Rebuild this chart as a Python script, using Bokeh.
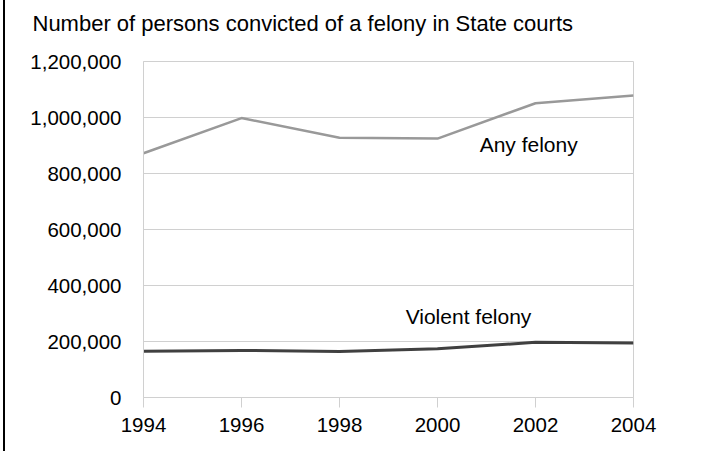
from bokeh.plotting import figure
from bokeh.models import Range1d, NumeralTickFormatter, FixedTicker, Label, Title
from bokeh.embed import file_html
from bokeh.resources import INLINE

years = [1994, 1996, 1998, 2000, 2002, 2004]
any_felony = [872217, 997970, 927717, 924700, 1051000, 1078920]
violent_felony = [165430, 168250, 164584, 173697, 197030, 194570]
y_ticks = [0, 200000, 400000, 600000, 800000, 1000000, 1200000]
title_text = "Number of persons convicted of a felony in State courts"
label_any = "Any felony"
label_violent = "Violent felony"

FONT = "Liberation Sans"

p = figure(width=698, height=451, output_backend="svg", toolbar_location=None,
           title=None,
           x_range=Range1d(1994, 2004), y_range=Range1d(0, 1200000),
           min_border_left=138, min_border_right=70, min_border_top=0, min_border_bottom=54)
p.styles = {"margin-left": "3px", "border-left": "2px solid black"}

# spacer panel between the frame and the title
p.add_layout(Title(text=" ", text_font_size="1px", standoff=14), "above")
p.add_layout(Title(text=title_text, align="left", offset=-111, standoff=17,
                   text_font=FONT, text_font_size="22px", text_font_style="normal",
                   text_color="#000000"), "above")

p.outline_line_color = "#d0d0d0"
p.outline_line_width = 1
p.background_fill_color = "white"
p.border_fill_color = "white"

p.xgrid.grid_line_color = None
p.ygrid.grid_line_color = "#d0d0d0"
p.ygrid.grid_line_width = 1

p.xaxis.ticker = FixedTicker(ticks=years)
p.yaxis.ticker = FixedTicker(ticks=y_ticks)
p.yaxis.formatter = NumeralTickFormatter(format="0,0")

for ax in (p.xaxis, p.yaxis):
    ax.axis_line_color = "#d0d0d0"
    ax.major_label_text_font = FONT
    ax.major_label_text_font_size = "20.5px"
    ax.major_label_text_color = "#000000"
    ax.minor_tick_line_color = None
    ax.major_tick_in = 0

p.xaxis.major_tick_out = 10
p.xaxis.major_tick_line_color = "#d0d0d0"
p.xaxis.major_label_standoff = 10
p.yaxis.major_tick_out = 0
p.yaxis.major_tick_line_color = None
p.yaxis.major_label_standoff = 22

p.line(years, any_felony, line_color="#999999", line_width=2.5)
p.line(years, violent_felony, line_color="#404040", line_width=3)

p.add_layout(Label(x=2000.86, y=904000, text=label_any, text_font=FONT,
                   text_font_size="21px", text_color="#000000",
                   text_baseline="alphabetic", text_align="left"))
p.add_layout(Label(x=1999.35, y=288000, text=label_violent, text_font=FONT,
                   text_font_size="21px", text_color="#000000",
                   text_baseline="alphabetic", text_align="left"))

open("out.html", "w").write(file_html(p, INLINE))
